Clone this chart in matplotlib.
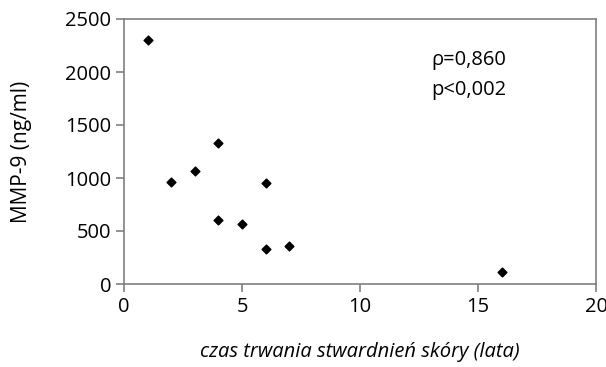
import matplotlib.pyplot as plt

plt.rcParams['font.family'] = ['Open Sans', 'DejaVu Sans']

# dane
czas = [1, 2, 3, 4, 4, 5, 6, 6, 7, 16]
mmp9 = [2300, 965, 1070, 1330, 600, 565, 950, 330, 360, 115]

fig = plt.figure(figsize=(6.06, 3.67), dpi=100)
ax = fig.add_axes([124/606, 1 - 284/367, 472/606, 265/367])

ax.scatter(czas, mmp9, marker='D', s=20, color='black', zorder=3)

ax.set_xlim(0, 20)
ax.set_ylim(0, 2500)
ax.set_xticks([0, 5, 10, 15, 20])
ax.set_yticks([0, 500, 1000, 1500, 2000, 2500])

for s in ax.spines.values():
    s.set_color('#7f7f7f')
    s.set_linewidth(1.2)
ax.tick_params(direction='out', length=6, width=1.2, color='#7f7f7f',
               labelsize=14.5, labelcolor='black', pad=3)

ax.set_ylabel('MMP-9 (ng/ml)', fontsize=15, labelpad=24)
ax.set_xlabel('czas trwania stwardnień skóry (lata)', fontsize=14.5,
              style='italic', labelpad=18)

ax.text(14.6, 2113, 'ρ=0,860', fontsize=14.5, ha='center', va='center')
ax.text(14.6, 1830, 'p<0,002', fontsize=14.5, ha='center', va='center')

fig.savefig('out.png', dpi=100)
